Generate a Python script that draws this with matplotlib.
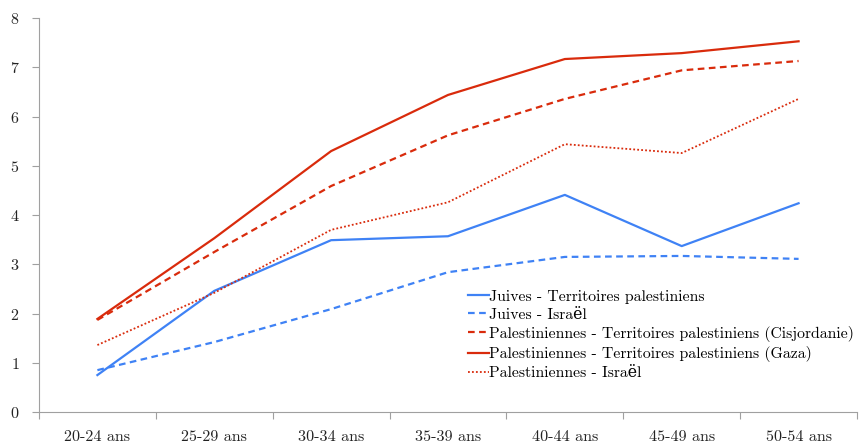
import matplotlib.pyplot as plt

plt.rcParams['font.family'] = ['cmr10', 'DejaVu Serif']
plt.rcParams['axes.formatter.use_mathtext'] = True

ages = ['20-24 ans', '25-29 ans', '30-34 ans', '35-39 ans', '40-44 ans', '45-49 ans', '50-54 ans']
juives_tp = [0.75, 2.46, 3.49, 3.57, 4.41, 3.37, 4.24]
juives_isr = [0.85, 1.42, 2.09, 2.84, 3.15, 3.17, 3.11]
pal_cisj = [1.87, 3.25, 4.59, 5.62, 6.36, 6.94, 7.13]
pal_gaza = [1.89, 3.53, 5.30, 6.44, 7.17, 7.29, 7.53]
pal_isr = [1.36, 2.42, 3.70, 4.26, 5.44, 5.26, 6.36]

blue = '#3f82f5'
red = '#d92b0c'
grey = '#a0a0a0'
fs = 11.6

fig = plt.figure(figsize=(8.64, 4.43), dpi=100)
ax = fig.add_axes([0.0451, 0.070, 0.9468, 0.889])
x = range(len(ages))

ax.plot(x, juives_tp, color=blue, lw=1.6, label='Juives - Territoires palestiniens')
ax.plot(x, juives_isr, color=blue, lw=1.6, ls=(0, (3, 2)), label='Juives - Israël')
ax.plot(x, pal_cisj, color=red, lw=1.6, ls=(0, (3, 2)), label='Palestiniennes - Territoires palestiniens (Cisjordanie)')
ax.plot(x, pal_gaza, color=red, lw=1.6, label='Palestiniennes - Territoires palestiniens (Gaza)')
ax.plot(x, pal_isr, color=red, lw=1.3, ls=(0, (1, 1.2)), label='Palestiniennes - Israël')

ax.set_xlim(-0.5, len(ages) - 0.5)
ax.set_ylim(0, 8)
ax.set_xticks([i - 0.5 for i in range(len(ages) + 1)])
ax.set_xticklabels([])
ax.set_xticks(list(x), minor=True)
ax.set_xticklabels(ages, minor=True)
ax.tick_params(axis='x', which='minor', length=0, pad=13.5, labelsize=fs, labelcolor='#222222')
ax.tick_params(axis='x', which='major', length=5, color=grey)
ax.tick_params(axis='y', length=5, color=grey, labelsize=fs, labelcolor='#222222', pad=9)
ax.set_yticks(range(9))

for s in ['top', 'right']:
    ax.spines[s].set_visible(False)
ax.spines['left'].set_color(grey)
ax.spines['bottom'].set_color(grey)

ax.legend(loc='lower left', bbox_to_anchor=(0.517, 0.065), frameon=False, fontsize=11.3,
          handlelength=1.3, handletextpad=0.05, labelspacing=0.26, borderaxespad=0.0)

plt.savefig('out.png', dpi=100)
